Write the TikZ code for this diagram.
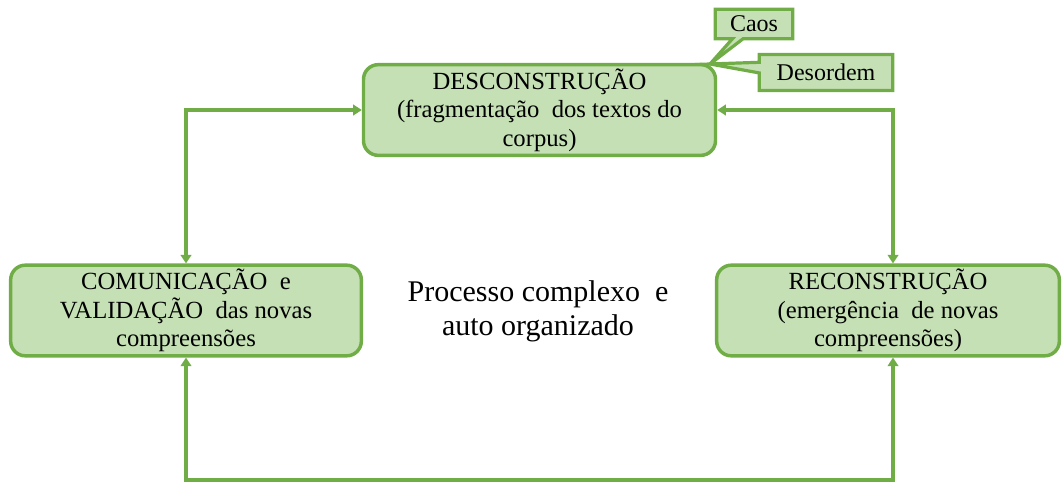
\documentclass[tikz,border=0pt]{standalone}
\usepackage{fontspec}
\setmainfont{Liberation Serif}
\usetikzlibrary{arrows.meta,shapes.callouts}
\definecolor{gfill}{HTML}{C5E0B4}
\definecolor{gline}{HTML}{70AD47}
\tikzset{
  stage/.style={draw=gline, fill=gfill, line width=2.6pt, rounded corners=11pt,
    align=center, inner sep=0pt, font=\fontsize{18.5}{21.5}\selectfont},
  tag/.style={draw=gline, fill=gfill, line width=2.4pt, rectangle callout,
    callout pointer width=8pt, inner sep=0pt, font=\fontsize{18}{21}\selectfont},
  link/.style={draw=gline, line width=2.5pt, {Triangle[length=6.5pt,width=8pt]}-{Triangle[length=6.5pt,width=8pt]}}
}
\begin{document}
\begin{tikzpicture}[x=0.75pt,y=-0.75pt]
\useasboundingbox (0,0) rectangle (1063,482);
\node[stage, minimum width=264pt, minimum height=68pt] (d) at (539.5,110)
  {DESCONSTRUÇÃO\\(fragmentação~ dos textos do\\corpus)};
\node[stage, minimum width=263pt, minimum height=68pt] (c) at (186,310.5)
  {COMUNICAÇÃO~ e\\VALIDAÇÃO~ das novas\\compreensões};
\node[stage, minimum width=257pt, minimum height=68pt] (r) at (888,310.5)
  {RECONSTRUÇÃO\\(emergência~ de novas\\compreensões)};
\node[align=center, font=\fontsize{22.5}{25.5}\selectfont] (p) at (538,311)
  {Processo complexo~ e\\auto organizado};
\coordinate (tip) at (710,64);
\node[tag, minimum width=58pt, minimum height=22pt, callout absolute pointer={(tip)}] (caos) at (754,24) {Caos};
\node[tag, minimum width=100pt, minimum height=27pt, callout absolute pointer={(tip)}] (des) at (826,72.5) {Desordem};
\coordinate (bl) at (186,480);
\coordinate (br) at (893,480);
\draw[link] (c.north) |- (d.west);
\draw[link] (d.east) -| ([xshift=3.75pt]r.north);
\draw[link] (c.south) -- (bl) -- (br) -- ([xshift=3.75pt]r.south);
\end{tikzpicture}
\end{document}
